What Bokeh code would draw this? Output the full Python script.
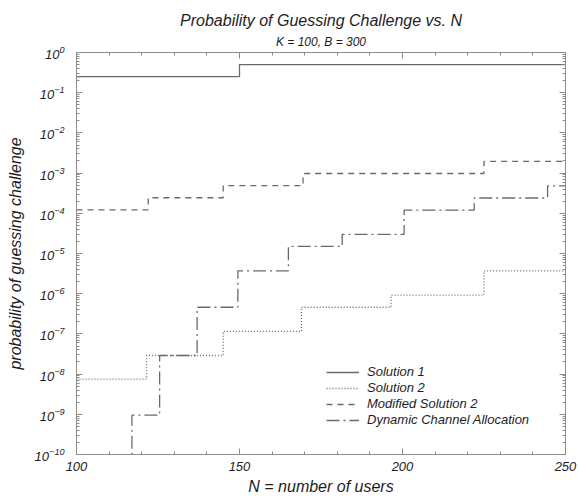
from bokeh.plotting import figure
from bokeh.models import (Range1d, LogAxis, LinearAxis, FixedTicker, SingleIntervalTicker,
                          LogTickFormatter, Title, CustomJSTickFormatter)
from bokeh.embed import file_html
from bokeh.resources import INLINE

# ---- data ----
n_sol1 = [100, 150, 250]
p_sol1 = [0.25, 0.5, 0.5]

n_sol2 = [100, 121.5, 145, 169, 196.5, 225, 250]
p_sol2 = [7.5e-9, 2.9e-8, 1.15e-7, 4.6e-7, 9.2e-7, 3.7e-6, 3.7e-6]

n_mod = [100, 122, 145, 169.5, 225, 250]
p_mod = [1.22e-4, 2.44e-4, 4.88e-4, 9.77e-4, 1.95e-3, 1.95e-3]

n_dca = [117, 117, 125.5, 137, 149.5, 165, 181.5, 200.5, 222, 244.5, 250]
p_dca = [1e-11, 9.5e-10, 2.9e-8, 4.6e-7, 3.7e-6, 1.5e-5, 3e-5, 1.2e-4, 2.4e-4, 4.8e-4, 4.8e-4]

x_ticks = [100, 150, 200, 250]
y_exponents = [-10, -9, -8, -7, -6, -5, -4, -3, -2, -1, 0]

labels = ["Solution 1", "Solution 2", "Modified Solution 2", "Dynamic Channel Allocation"]
title_text = "Probability of Guessing Challenge vs. N"
subtitle_text = "K = 100, B = 300"

FONT = "Liberation Sans"
AX = "#8c8c8c"
LINE = "#6a6a6a"
TXT = "#1e1e1e"

p = figure(width=578, height=497, output_backend="svg", toolbar_location=None,
           title=None, y_axis_type="log",
           x_range=Range1d(100, 250), y_range=Range1d(1e-10, 1),
           min_border_left=76, min_border_right=13, min_border_top=52, min_border_bottom=43)
p.outline_line_color = AX
p.grid.visible = False
p.background_fill_color = "white"
p.border_fill_color = "white"

x_ticker = SingleIntervalTicker(interval=50, num_minor_ticks=5)
y_major = [10.0 ** e for e in y_exponents]
y_minor = [m * 10.0 ** e for e in y_exponents[:-1] for m in range(2, 10)]
y_ticker = FixedTicker(ticks=y_major, minor_ticks=y_minor)

def style_axis(ax, labels_on=True):
    ax.axis_line_color = AX
    ax.major_tick_line_color = AX
    ax.minor_tick_line_color = AX
    ax.major_tick_in = 6
    ax.major_tick_out = 0
    ax.minor_tick_in = 3
    ax.minor_tick_out = 0
    ax.major_label_text_font = FONT
    ax.major_label_text_font_style = "italic"
    ax.major_label_text_color = TXT
    ax.axis_label_text_font = FONT
    ax.axis_label_text_font_style = "italic"
    ax.axis_label_text_color = TXT
    if not labels_on:
        ax.formatter = CustomJSTickFormatter(code="return ''")
        ax.major_label_standoff = 0
        ax.major_label_text_font_size = "1px"

xa = p.xaxis[0]
xa.ticker = x_ticker
style_axis(xa)
xa.major_label_text_font_size = "13px"
xa.major_label_standoff = 7
xa.axis_label = "N = number of users"
xa.axis_label_text_font_size = "16px"
xa.axis_label_standoff = 4

ya = p.yaxis[0]
ya.ticker = y_ticker
ya.formatter = LogTickFormatter()
style_axis(ya)
ya.major_label_text_font_size = "13px"
ya.major_label_standoff = 12
ya.axis_label = "probability of guessing challenge"
ya.axis_label_text_font_size = "16px"
ya.axis_label_standoff = 8

top_ax = LinearAxis(ticker=SingleIntervalTicker(interval=50, num_minor_ticks=5))
style_axis(top_ax, labels_on=False)
top_ax.major_label_standoff = 9
p.add_layout(top_ax, "above")
right_ax = LogAxis(ticker=FixedTicker(ticks=y_major, minor_ticks=y_minor))
style_axis(right_ax, labels_on=False)
p.add_layout(right_ax, "right")

p.add_layout(Title(text=subtitle_text, text_font=FONT, text_font_style="italic",
                   text_font_size="12px", text_color=TXT, align="center",
                   standoff=8), "above")
p.add_layout(Title(text=title_text, text_font=FONT, text_font_style="italic",
                   text_font_size="16px", text_color=TXT, align="center",
                   standoff=0), "above")

p.step(n_sol1, p_sol1, mode="after", line_color=LINE, line_width=1.3,
       legend_label=labels[0])
p.step(n_sol2, p_sol2, mode="after", line_color=LINE, line_width=1.3,
       line_dash="1 2", legend_label=labels[1])
p.step(n_mod, p_mod, mode="after", line_color=LINE, line_width=1.3,
       line_dash="6 5", legend_label=labels[2])
p.step(n_dca, p_dca, mode="after", line_color=LINE, line_width=1.3,
       line_dash="13 4 2 4", legend_label=labels[3])

lg = p.legend[0]
lg.location = (250, 27)
lg.padding = 0
lg.margin = 0
lg.spacing = 1
lg.glyph_width = 33
lg.glyph_height = 14
lg.label_height = 14
lg.label_standoff = 8
lg.label_text_font = FONT
lg.label_text_font_style = "italic"
lg.label_text_font_size = "13px"
lg.label_text_color = TXT
lg.border_line_color = None
lg.background_fill_alpha = 0

open("out.html", "w").write(file_html(p, INLINE))
